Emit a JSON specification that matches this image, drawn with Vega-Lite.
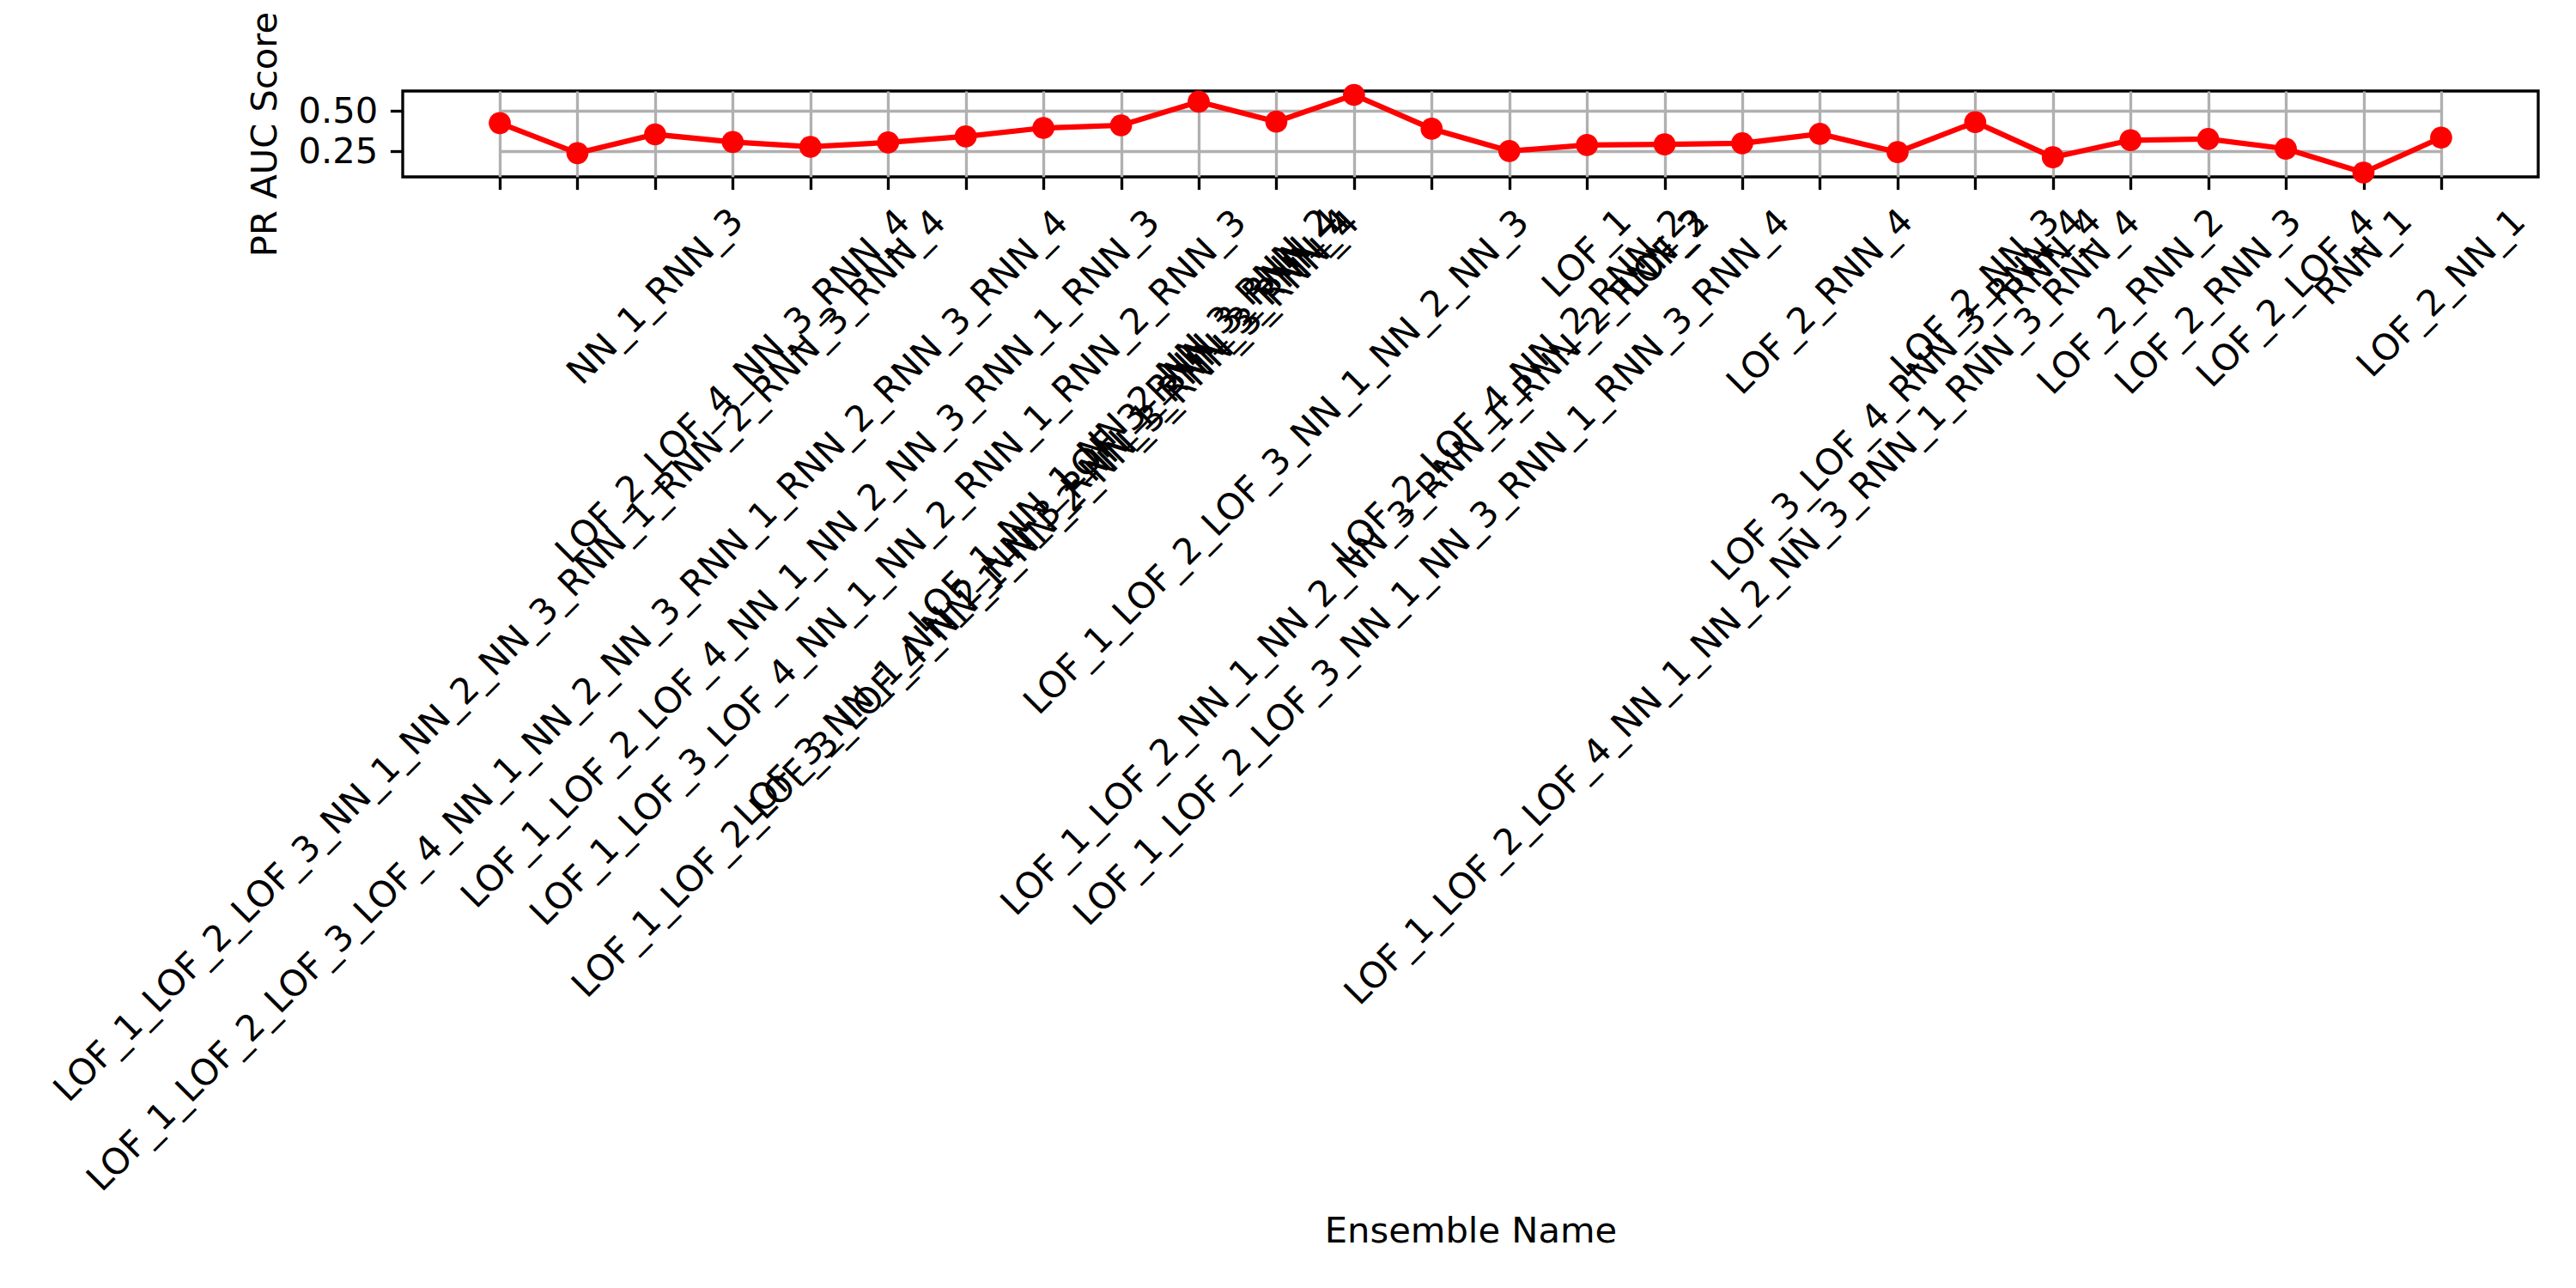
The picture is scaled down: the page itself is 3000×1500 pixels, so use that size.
{
  "$schema": "https://vega.github.io/schema/vega-lite/v6.json",
  "width": 2487,
  "height": 100,
  "autosize": {"type": "none"},
  "padding": {"left": 469, "top": 106, "right": 44, "bottom": 1294},
  "background": "white",
  "config": {
    "font": "DejaVu Sans",
    "view": {"stroke": "black", "strokeWidth": 3.33},
    "axis": {"domain": false}
  },
  "title": {
    "text": "PR_AUC Scores of Ensembles",
    "font": "DejaVu Sans",
    "fontSize": 50,
    "fontWeight": "normal",
    "color": "black",
    "anchor": "middle",
    "frame": "group",
    "baseline": "alphabetic",
    "offset": 23
  },
  "data": {
    "values": [
      {"i": 0, "name": "LOF_1_LOF_2_LOF_3_NN_1_NN_2_NN_3_RNN_1_RNN_2_RNN_3_RNN_4", "score": 0.425},
      {"i": 1, "name": "LOF_1_LOF_2_LOF_3_LOF_4_NN_1_NN_2_NN_3_RNN_1_RNN_2_RNN_3_RNN_4", "score": 0.239},
      {"i": 2, "name": "NN_1_RNN_3", "score": 0.355},
      {"i": 3, "name": "LOF_2_LOF_4_NN_3_RNN_4", "score": 0.308},
      {"i": 4, "name": "LOF_1_LOF_2_LOF_4_NN_1_NN_2_NN_3_RNN_1_RNN_3", "score": 0.278},
      {"i": 5, "name": "LOF_1_LOF_3_LOF_4_NN_1_NN_2_RNN_1_RNN_2_RNN_3", "score": 0.305},
      {"i": 6, "name": "LOF_1_LOF_2_LOF_3_LOF_4_NN_1_NN_2_NN_3_RNN_3_RNN_4", "score": 0.342},
      {"i": 7, "name": "LOF_3_NN_1_NN_2_NN_3_RNN_1_RNN_3_RNN_4", "score": 0.395},
      {"i": 8, "name": "LOF_1_NN_1_NN_2_NN_3_RNN_2", "score": 0.411},
      {"i": 9, "name": "LOF_3_RNN_3_RNN_4", "score": 0.558},
      {"i": 10, "name": "LOF_1_LOF_2_LOF_3_NN_1_NN_2_NN_3", "score": 0.434},
      {"i": 11, "name": "LOF_1_LOF_2_NN_1_NN_2_NN_3_RNN_1_RNN_2_RNN_3", "score": 0.6},
      {"i": 12, "name": "LOF_1_LOF_2_LOF_3_NN_1_NN_3_RNN_1_RNN_3_RNN_4", "score": 0.39},
      {"i": 13, "name": "LOF_2_LOF_4_NN_2_RNN_2", "score": 0.252},
      {"i": 14, "name": "LOF_1", "score": 0.289},
      {"i": 15, "name": "LOF_2", "score": 0.293},
      {"i": 16, "name": "LOF_1_LOF_2_LOF_4_NN_1_NN_2_NN_3_RNN_1_RNN_3_RNN_4", "score": 0.3},
      {"i": 17, "name": "LOF_2_RNN_4", "score": 0.358},
      {"i": 18, "name": "LOF_3_LOF_4_RNN_3_RNN_4", "score": 0.245},
      {"i": 19, "name": "LOF_2_NN_3", "score": 0.431},
      {"i": 20, "name": "RNN_4", "score": 0.213},
      {"i": 21, "name": "LOF_2_RNN_2", "score": 0.319},
      {"i": 22, "name": "LOF_2_RNN_3", "score": 0.326},
      {"i": 23, "name": "LOF_2_LOF_4", "score": 0.266},
      {"i": 24, "name": "RNN_1", "score": 0.118},
      {"i": 25, "name": "LOF_2_NN_1", "score": 0.335}
    ]
  },
  "encoding": {
    "x": {
      "field": "name",
      "type": "ordinal",
      "sort": {"field": "i"},
      "scale": {"type": "point", "range": [113.06, 2373.94], "padding": 0},
      "axis": {
        "title": "Ensemble Name",
        "titleFont": "DejaVu Sans",
        "titleFontSize": 41.67,
        "titleFontWeight": "normal",
        "titleColor": "black",
        "titleY": 1240,
        "titleBaseline": "alphabetic",
        "titleAnchor": "middle",
        "labelAngle": -45,
        "labelAlign": "center",
        "labelBaseline": "middle",
        "labelFont": "DejaVu Sans",
        "labelFontSize": 41.67,
        "labelColor": "black",
        "labelLimit": 4000,
        "labelOverlap": false,
        "labelFlush": false,
        "labelBound": false,
        "labelPadding": 14.6,
        "ticks": true,
        "tickSize": 14.6,
        "tickWidth": 3.33,
        "tickColor": "black",
        "grid": true,
        "gridColor": "#b0b0b0",
        "gridWidth": 3.33,
        "encoding": {
          "labels": {
            "dx": {"value": {"expr": "-0.25*(41.67 + 41.67*(1.919*(length(datum.label)-length(replace(datum.label,regexp('L','g'),''))) + 0.695*(length(datum.label)-length(replace(datum.label,regexp('R','g'),''))) + 0.748*(length(datum.label)-length(replace(datum.label,regexp('N','g'),''))) + 0.5*(length(datum.label)-length(replace(datum.label,regexp('_','g'),''))) + 0.636*(length(datum.label)-length(replace(datum.label,regexp('[0-9]','g'),'')))))"}},
            "dy": {"value": {"expr": "0.25*(41.67 + 41.67*(1.919*(length(datum.label)-length(replace(datum.label,regexp('L','g'),''))) + 0.695*(length(datum.label)-length(replace(datum.label,regexp('R','g'),''))) + 0.748*(length(datum.label)-length(replace(datum.label,regexp('N','g'),''))) + 0.5*(length(datum.label)-length(replace(datum.label,regexp('_','g'),''))) + 0.636*(length(datum.label)-length(replace(datum.label,regexp('[0-9]','g'),'')))))"}}
          }
        }
      }
    },
    "y": {
      "field": "score",
      "type": "quantitative",
      "scale": {"domain": [0.0915, 0.624], "nice": false, "zero": false},
      "axis": {
        "title": "PR AUC Score",
        "titleFont": "DejaVu Sans",
        "titleFontSize": 41.67,
        "titleFontWeight": "normal",
        "titleColor": "black",
        "titlePadding": 17,
        "values": [0.25, 0.5],
        "format": ".2f",
        "labelFont": "DejaVu Sans",
        "labelFontSize": 41.67,
        "labelColor": "black",
        "labelPadding": 14.6,
        "labelFlush": false,
        "labelBound": false,
        "tickSize": 14.6,
        "tickWidth": 3.33,
        "tickColor": "black",
        "grid": true,
        "gridColor": "#b0b0b0",
        "gridWidth": 3.33
      }
    }
  },
  "layer": [
    {"mark": {"type": "line", "color": "#ff0000", "strokeWidth": 6.25}},
    {"mark": {"type": "point", "shape": "circle", "filled": true, "color": "#ff0000", "opacity": 1, "size": 660}}
  ]
}
